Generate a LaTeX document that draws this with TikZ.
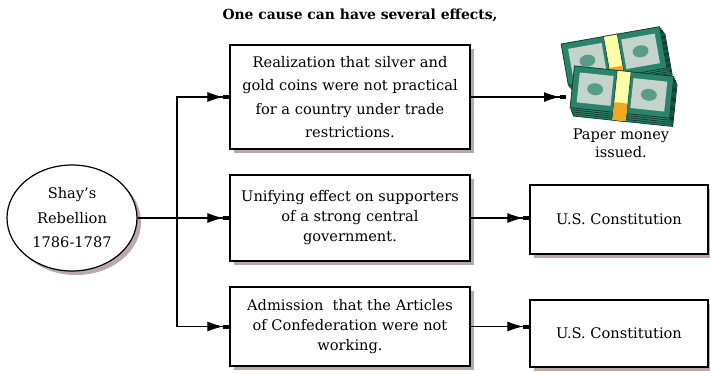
\documentclass[tikz,border=0pt]{standalone}
\usepackage{fontspec}
\setmainfont{DejaVu Serif}
\usetikzlibrary{positioning,shapes.geometric,arrows.meta,shadows}

\definecolor{shadowgray}{RGB}{184,170,168}
\definecolor{billgreen}{RGB}{42,132,108}
\definecolor{billdark}{RGB}{18,60,48}
\definecolor{billlight}{RGB}{196,212,204}
\definecolor{bandyellow}{RGB}{255,255,168}
\definecolor{bandorange}{RGB}{240,168,32}

% one bundle of notes: #1 centre, #2 angle
\newcommand{\billstack}[2]{%
  \begin{scope}[shift={#1},rotate=#2]
    \foreach \k in {4,3,2,1}
      \filldraw[fill=billgreen,draw=billdark,line width=0.8pt]
        (-50+\k,-21+2*\k) rectangle (50+\k,21+2*\k);
    \filldraw[fill=billgreen,draw=billdark,line width=0.8pt] (-50,-21) rectangle (50,21);
    \fill[billlight] (-44,-15) rectangle (-10,15);
    \fill[billlight] (10,-15) rectangle (44,15);
    \fill[billgreen!70!billlight] (-27,0) ellipse (8 and 6);
    \fill[billgreen!70!billlight] (27,0) ellipse (8 and 6);
    \filldraw[fill=bandyellow,draw=billdark,line width=0.6pt] (-7,-21) rectangle (7,29);
    \fill[bandorange] (-6.6,11) rectangle (6.6,28.6);
  \end{scope}}

\begin{document}
\begin{tikzpicture}[x=1pt,y=-1pt,
	textbox/.style={draw, line width=1.3pt, fill=white, align=center,
		font=\fontsize{14.6}{20}\selectfont,
		drop shadow={shadow xshift=4pt, shadow yshift=-4pt, fill=shadowgray, opacity=1}},
	causenode/.style={ellipse, draw, line width=1.2pt, fill=white, align=center,
		minimum width=130pt, minimum height=106pt, inner sep=0pt,
		font=\fontsize{14.6}{24.5}\selectfont,
		drop shadow={shadow xshift=4pt, shadow yshift=-4pt, fill=shadowgray, opacity=1}},
	link/.style={line width=1.2pt},
	effectarrow/.style={link, -{Latex[length=16pt,width=10pt] Rectangle[length=6pt,width=4pt]}},
	]
	\useasboundingbox (0,0) rectangle (710,373);

	%Title
	\node[font=\fontsize{13.9}{18}\bfseries] (title) at (360,15) {One cause can have several effects,};

	%Cause
	\node[causenode] (shays) at (72,218) {Shay's\\Rebellion\\1786-1787};

	%Effects
	\node[textbox, minimum width=240pt, minimum height=104pt, font=\fontsize{14.6}{23.5}\selectfont]
		(realize) at (350,97)
		{Realization that silver and\\gold coins were not practical\\for a country under trade\\restrictions.};
	\node[textbox, minimum width=240pt, minimum height=86pt] (unify) at (350,218)
		{Unifying effect on supporters\\of a strong central\\government.};
	\node[textbox, minimum width=240pt, minimum height=79pt] (admit) at (350,326.5)
		{Admission\ \ that the Articles\\of Confederation were not\\working.};

	%Results
	\node[inner sep=0pt, minimum width=112pt, minimum height=95pt] (money) at (621,72) {};
	\node[align=center, font=\fontsize{14.6}{18}\selectfont, below=6pt of money] (issued)
		{Paper money\\issued.};
	\node[textbox, minimum width=178pt, minimum height=69pt] (const1) at (619,219.5) {U.S. Constitution};
	\node[textbox, minimum width=178pt, minimum height=67pt] (const2) at (619,333.5) {U.S. Constitution};

	%Money bundles
	\billstack{(614,56)}{10}
	\billstack{(622,92)}{-6}

	%Lines
	\coordinate (trunk) at (177,218);
	\coordinate (moneyin) at (566,97);
	\draw[link] (shays) -- (trunk);
	\draw[effectarrow] (trunk) |- (realize.west);
	\draw[effectarrow] (trunk) -- (unify.west);
	\draw[effectarrow] (trunk) |- (admit.west);
	\draw[effectarrow] (realize.east) -- (moneyin);
	\draw[effectarrow] (unify.east) -- (const1.west |- unify.east);
	\draw[effectarrow] (admit.east) -- (const2.west |- admit.east);
\end{tikzpicture}
\end{document}
